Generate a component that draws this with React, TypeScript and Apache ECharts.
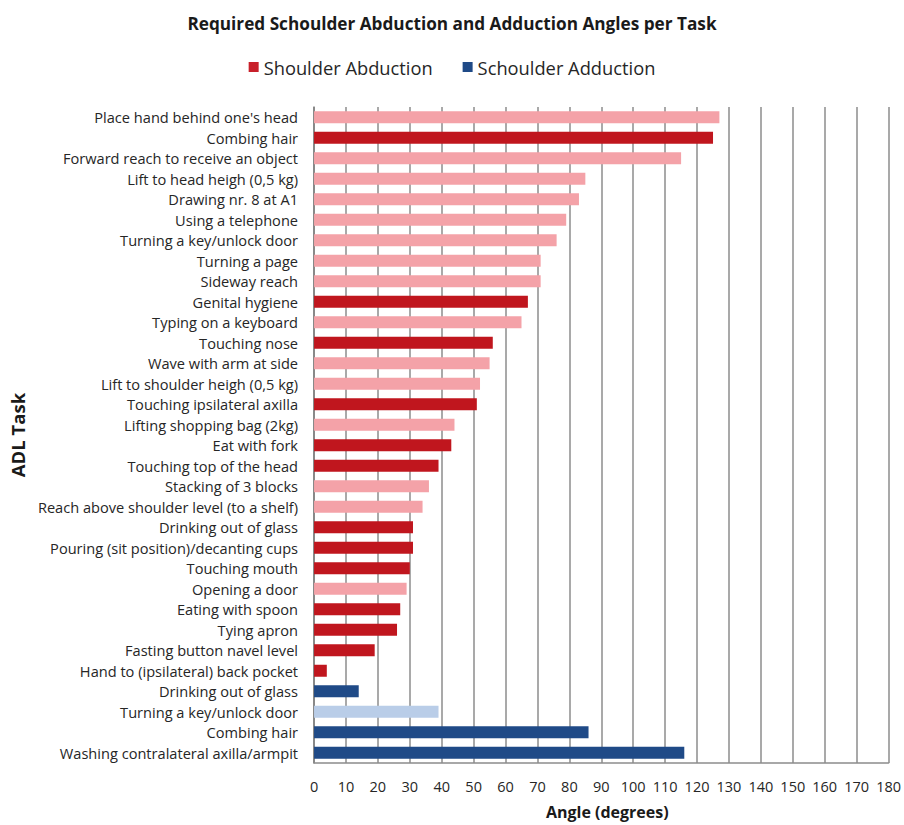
import React, { useEffect, useRef } from "react";
import * as echarts from "echarts";

const title = "Required Schoulder Abduction and Adduction Angles per Task";
const abductionName = "Shoulder Abduction";
const adductionName = "Schoulder Adduction";

const abductionTasks = [
  "Place hand behind one's head",
  "Combing hair",
  "Forward reach to receive an object",
  "Lift to head heigh (0,5 kg)",
  "Drawing nr. 8 at A1",
  "Using a telephone",
  "Turning a key/unlock door",
  "Turning a page",
  "Sideway reach",
  "Genital hygiene",
  "Typing on a keyboard",
  "Touching nose",
  "Wave with arm at side",
  "Lift to shoulder heigh (0,5 kg)",
  "Touching ipsilateral axilla",
  "Lifting shopping bag (2kg)",
  "Eat with fork",
  "Touching top of the head",
  "Stacking of 3 blocks",
  "Reach above shoulder level (to a shelf)",
  "Drinking out of glass",
  "Pouring (sit position)/decanting cups",
  "Touching mouth",
  "Opening a door",
  "Eating with spoon",
  "Tying apron",
  "Fasting button navel level",
  "Hand to (ipsilateral) back pocket",
];
const abductionValues = [
  127, 125, 115, 85, 83, 79, 76, 71, 71, 67, 65, 56, 55, 52, 51, 44, 43, 39, 36, 34, 31, 31, 30, 29, 27, 26, 19, 4,
];
// true = highlighted (dark) bar, false = light bar
const abductionHighlighted = [
  false, true, false, false, false, false, false, false, false, true, false, true, false, false, true, false, true, true,
  false, false, true, true, true, false, true, true, true, true,
];

const adductionTasks = [
  "Drinking out of glass",
  "Turning a key/unlock door",
  "Combing hair",
  "Washing contralateral axilla/armpit",
];
const adductionValues = [14, 39, 86, 116];
const adductionHighlighted = [true, false, true, true];

const xTicks = { min: 0, max: 180, interval: 10 };

const RED_DARK = "#C0161E";
const RED_LIGHT = "#F4A2A8";
const BLUE_DARK = "#1F4A87";
const BLUE_LIGHT = "#B9CDE8";

export default function App() {
  const ref = useRef<HTMLDivElement>(null);
  useEffect(() => {
    if (!ref.current) return;
    const chart = echarts.init(ref.current, undefined, { renderer: "svg" });
    const categories = [...abductionTasks, ...adductionTasks];
    const nA = abductionTasks.length;
    const nB = adductionTasks.length;
    const abdData: any[] = abductionValues.map((v, i) => ({
      value: v,
      itemStyle: { color: abductionHighlighted[i] ? RED_DARK : RED_LIGHT },
    }));
    for (let i = 0; i < nB; i++) abdData.push("-");
    const addData: any[] = [];
    for (let i = 0; i < nA; i++) addData.push("-");
    adductionValues.forEach((v, i) =>
      addData.push({ value: v, itemStyle: { color: adductionHighlighted[i] ? BLUE_DARK : BLUE_LIGHT } })
    );
    const font = "'Open Sans', sans-serif";
    chart.setOption({
      animation: false,
      backgroundColor: "#ffffff",
      textStyle: { fontFamily: font },
      title: {
        text: title,
        left: "center",
        top: 10,
        textStyle: { fontSize: 17.2, fontWeight: "bold", color: "#1a1a1a", fontFamily: font },
      },
      legend: {
        top: 53,
        left: "center",
        itemWidth: 10,
        itemHeight: 10,
        itemGap: 30,
        icon: "rect",
        textStyle: { fontSize: 18.3, color: "#262626", fontFamily: font },
        data: [
          { name: abductionName, itemStyle: { color: "#C8202A" } },
          { name: adductionName, itemStyle: { color: BLUE_DARK } },
        ],
      },
      grid: { left: 314, right: 15, top: 107, bottom: 62, containLabel: false },
      xAxis: {
        type: "value",
        min: xTicks.min,
        max: xTicks.max,
        interval: xTicks.interval,
        name: "Angle (degrees)",
        nameLocation: "middle",
        nameGap: 41,
        nameTextStyle: { fontSize: 16, fontWeight: "bold", color: "#1a1a1a", fontFamily: font, padding: [0, 0, 0, 12] },
        axisLine: { show: true, lineStyle: { color: "#8c8c8c", width: 1.5 } },
        axisTick: { show: false },
        axisLabel: { fontSize: 14.5, color: "#262626", margin: 16, fontFamily: font },
        splitLine: { show: true, lineStyle: { color: "#8c8c8c", width: 1.5 } },
      },
      yAxis: {
        type: "category",
        data: categories,
        inverse: true,
        name: "ADL Task",
        nameLocation: "middle",
        nameRotate: 90,
        nameGap: 287,
        nameTextStyle: { fontSize: 18.5, fontWeight: "bold", color: "#1a1a1a", fontFamily: font },
        axisLine: { show: true, lineStyle: { color: "#7f7f7f", width: 1.5 } },
        axisTick: { show: false },
        axisLabel: { fontSize: 14.6, color: "#262626", margin: 16, fontFamily: font },
        splitLine: { show: false },
      },
      series: [
        {
          name: abductionName,
          type: "bar",
          data: abdData,
          barWidth: 12,
          barGap: "-100%",
          itemStyle: { color: "#C8202A" },
        },
        {
          name: adductionName,
          type: "bar",
          data: addData,
          barWidth: 12,
          barGap: "-100%",
          itemStyle: { color: BLUE_DARK },
        },
      ],
    });
    return () => chart.dispose();
  }, []);
  return (
    <div
      ref={ref}
      style={{ position: "fixed", left: 0, top: 0, width: 904, height: 825 }}
    />
  );
}
